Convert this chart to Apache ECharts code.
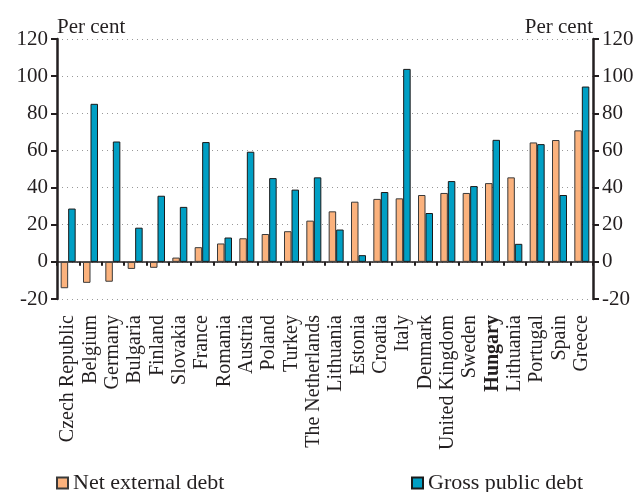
<!DOCTYPE html>
<html>
<head>
<meta charset="utf-8">
<script src="https://cdn.jsdelivr.net/npm/echarts@6/dist/echarts.min.js"></script>
<style>
  html, body { margin: 0; padding: 0; background: #fff; }
  #chart { width: 638px; height: 492px; }
</style>
</head>
<body>
<div id="chart"></div>
<script>
var countries = ['Czech Republic', 'Belgium', 'Germany', 'Bulgaria', 'Finland', 'Slovakia', 'France',
  'Romania', 'Austria', 'Poland', 'Turkey', 'The Netherlands', 'Lithuania', 'Estonia', 'Croatia',
  'Italy', 'Denmark', 'United Kingdom', 'Sweden', 'Hungary', 'Lithuania', 'Portugal', 'Spain', 'Greece'];
var netExternalDebt = [-14.2, -11.3, -10.7, -3.8, -3.2, 2.3, 7.9, 9.9, 12.7, 15.0, 16.5, 22.2,
  27.2, 32.4, 33.9, 34.2, 36.0, 37.1, 37.1, 42.4, 45.5, 64.3, 65.6, 70.8];
var grossPublicDebt = [28.7, 85.1, 64.8, 18.4, 35.6, 29.6, 64.5, 13.1, 59.3, 45.1, 38.9, 45.5,
  17.4, 3.6, 37.6, 103.9, 26.3, 43.5, 40.8, 65.7, 9.7, 63.4, 36.0, 94.4];
var yTicks = { min: -20, max: 120, interval: 20 };

var font = 'Liberation Serif';
var ink = '#231f20';

var chart = echarts.init(document.getElementById('chart'));

function yAxis(pos, withGrid) {
  return {
    type: 'value',
    position: pos,
    min: yTicks.min, max: yTicks.max, interval: yTicks.interval,
    name: 'Per cent',
    nameLocation: 'end',
    nameGap: 1,
    nameTextStyle: { fontFamily: font, fontSize: 21, color: ink, align: pos === 'left' ? 'left' : 'right', verticalAlign: 'bottom', padding: 0 },
    axisLine: { show: true, lineStyle: { color: ink, width: 2.5 } },
    axisTick: { show: true, length: 6, lineStyle: { color: ink, width: 2 } },
    axisLabel: { fontFamily: font, fontSize: 21, color: ink, margin: 9 },
    splitLine: { show: withGrid, lineStyle: { color: '#999', type: [1, 4], width: 1 } }
  };
}

chart.setOption({
  animation: false,
  grid: { left: 57, right: 45, top: 39, bottom: 193, containLabel: false },
  legend: [
    { data: ['Net external debt'], left: 51, top: 467, icon: 'rect', itemWidth: 11, itemHeight: 11,
      textStyle: { fontFamily: font, fontSize: 22, color: ink } },
    { data: ['Gross public debt'], left: 406, top: 467, icon: 'rect', itemWidth: 11, itemHeight: 11,
      textStyle: { fontFamily: font, fontSize: 22, color: ink } }
  ],
  xAxis: [
    {
      type: 'category',
      data: countries,
      axisLine: { onZero: true, lineStyle: { color: ink, width: 1.5 } },
      axisTick: { show: true, interval: 0, length: 4, lineStyle: { color: ink, width: 2 } },
      axisLabel: { show: false },
      splitLine: { show: false }
    },
    {
      type: 'category',
      data: countries,
      position: 'bottom',
      axisLine: { show: false, onZero: false },
      axisTick: { show: false },
      axisLabel: {
        interval: 0, rotate: 90, margin: 16,
        fontFamily: font, fontSize: 20, color: ink, lineHeight: 20,
        formatter: function (v) { return v === 'Hungary' ? '{b|' + v + '}' : v; },
        rich: { b: { fontFamily: font, fontSize: 20, fontWeight: 'bold', color: ink } }
      }
    }
  ],
  yAxis: [yAxis('left', true), yAxis('right', false)],
  series: [
    {
      name: 'Net external debt', type: 'bar', data: netExternalDebt,
      barWidth: 7.5, barGap: '0%',
      itemStyle: { color: '#fbb27d', borderColor: '#3a3a3a', borderWidth: 1 }
    },
    {
      name: 'Gross public debt', type: 'bar', data: grossPublicDebt,
      barWidth: 7.5, barGap: '0%',
      itemStyle: { color: '#009fc4', borderColor: '#1a1a1a', borderWidth: 1 }
    }
  ]
});
</script>
</body>
</html>
